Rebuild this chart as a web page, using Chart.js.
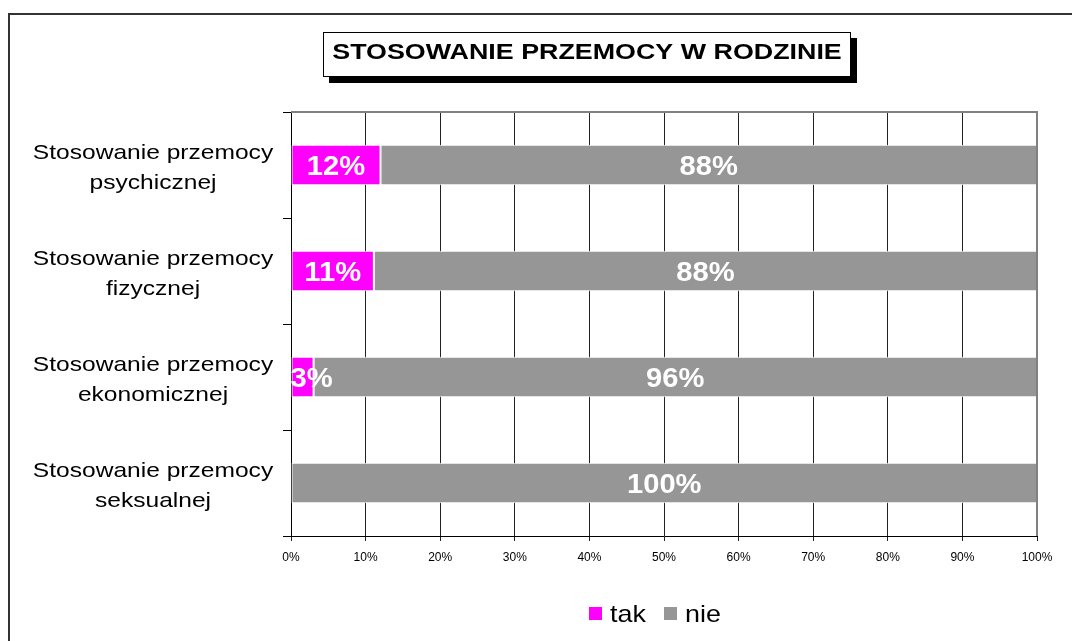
<!DOCTYPE html>
<html>
<head>
<meta charset="utf-8">
<script src="https://cdn.jsdelivr.net/npm/chart.js@4"></script>
<style>
  html, body { margin: 0; padding: 0; background: #fff; }
  #wrap { width: 1072px; height: 641px; position: relative; }
</style>
</head>
<body>
<div id="wrap"><canvas id="chart"></canvas></div>
<script>
// dane z wykresu
const categories = [
    ['Stosowanie przemocy', 'psychicznej'],
    ['Stosowanie przemocy', 'fizycznej'],
    ['Stosowanie przemocy', 'ekonomicznej'],
    ['Stosowanie przemocy', 'seksualnej']
];
const seriesNames = ['tak', 'nie'];
const takValues = [12, 11, 3, 0];
const nieValues = [88, 88, 96, 100];
const xTickLabels = ['0%', '10%', '20%', '30%', '40%', '50%', '60%', '70%', '80%', '90%', '100%'];

const FONT = "'Liberation Sans', Arial, sans-serif";
const colors = ['#ff00ff', '#969696'];

// wykres 100% skumulowany – udział w sumie wiersza
function share(values, i) {
    const total = takValues[i] + nieValues[i];
    return total === 0 ? 0 : values[i] / total * 100;
}

// tekst lekko rozciągnięty w poziomie (jak w eksporcie z Excela)
function drawText(ctx, text, x, y, font, color, sx, align) {
    ctx.save();
    ctx.font = font;
    ctx.fillStyle = color;
    ctx.textAlign = align || 'center';
    ctx.textBaseline = 'alphabetic';
    ctx.translate(x, y);
    ctx.scale(sx, 1);
    ctx.fillText(text, 0, 0);
    ctx.restore();
}

const decorPlugin = {
    id: 'decor',
    beforeDraw(chart) {
        const ctx = chart.ctx;
        ctx.save();
        ctx.fillStyle = '#fff';
        ctx.fillRect(0, 0, chart.width, chart.height);
        // ramka całego wykresu
        ctx.strokeStyle = '#333';
        ctx.lineWidth = 2;
        ctx.strokeRect(9, 14, 1100, 700);
        ctx.restore();
    },
    afterDatasetsDraw(chart) {
        const ctx = chart.ctx;
        const area = chart.chartArea;
        // szara ramka u góry i po prawej
        ctx.save();
        ctx.strokeStyle = '#808080';
        ctx.lineWidth = 2;
        ctx.beginPath();
        ctx.moveTo(area.left, area.top);
        ctx.lineTo(area.right, area.top);
        ctx.lineTo(area.right, area.bottom);
        ctx.stroke();
        ctx.restore();

        // etykiety wartości
        chart.data.datasets.forEach((ds, di) => {
            const meta = chart.getDatasetMeta(di);
            meta.data.forEach((bar, i) => {
                const raw = ds.rawValues[i];
                if (!raw) return;
                let cx = (bar.x + bar.base) / 2;
                // za wąski segment – napis zaczyna się od lewej krawędzi
                if (bar.x - bar.base < 40) cx = bar.base + 20;
                drawText(ctx, raw + '%', cx, bar.y + 10, 'bold 27px ' + FONT, '#fff', 1.08);
            });
        });
    },
    afterDraw(chart) {
        const ctx = chart.ctx;
        const yScale = chart.scales.y;

        // etykiety kategorii
        categories.forEach((lines, i) => {
            const cy = yScale.getPixelForValue(i);
            drawText(ctx, lines[0], 153, cy - 6, '21px ' + FONT, '#000', 1.17);
            drawText(ctx, lines[1], 153, cy + 23.5, '21px ' + FONT, '#000', 1.17);
        });

        // tytuł w ramce z cieniem
        ctx.save();
        ctx.fillStyle = '#000';
        ctx.fillRect(329, 38, 528, 45);
        ctx.fillStyle = '#fff';
        ctx.fillRect(323, 32, 528, 45);
        ctx.strokeStyle = '#000';
        ctx.lineWidth = 1;
        ctx.strokeRect(323.5, 32.5, 527, 44);
        ctx.restore();
        drawText(ctx, 'STOSOWANIE PRZEMOCY W RODZINIE', 587, 59, 'bold 22px ' + FONT, '#000', 1.22);

        // legenda
        const legendX = [589, 664];
        seriesNames.forEach((name, i) => {
            ctx.save();
            ctx.fillStyle = colors[i];
            ctx.fillRect(legendX[i], 607, 13, 13);
            ctx.restore();
            drawText(ctx, name, legendX[i] + 21, 622, '24px ' + FONT, '#000', 1.12, 'left');
        });
    }
};

new Chart(document.getElementById('chart'), {
    type: 'bar',
    data: {
        labels: categories,
        datasets: [
            {
                label: seriesNames[0],
                data: takValues.map((v, i) => share(takValues, i)),
                rawValues: takValues,
                backgroundColor: colors[0],
                borderColor: '#fff',
                borderWidth: 1,
                borderSkipped: false,
                categoryPercentage: 1,
                barPercentage: 0.38
            },
            {
                label: seriesNames[1],
                data: nieValues.map((v, i) => share(nieValues, i)),
                rawValues: nieValues,
                backgroundColor: colors[1],
                borderColor: '#fff',
                borderWidth: 1,
                borderSkipped: false,
                categoryPercentage: 1,
                barPercentage: 0.38
            }
        ]
    },
    options: {
        indexAxis: 'y',
        responsive: true,
        maintainAspectRatio: false,
        animation: false,
        layout: { padding: { top: 112, right: 35, left: 0, bottom: 0 } },
        plugins: {
            legend: { display: false },
            tooltip: { enabled: false }
        },
        scales: {
            x: {
                stacked: true,
                min: 0,
                max: 100,
                afterFit(scale) { scale.height = 105; },
                afterBuildTicks(scale) {
                    scale.ticks = xTickLabels.map((t, i) => ({ value: i * 10 }));
                },
                grid: { color: '#222', lineWidth: 1, tickLength: 5, drawTicks: true },
                border: { color: '#000', width: 1 },
                ticks: {
                    padding: 9,
                    maxRotation: 0,
                    autoSkip: false,
                    color: '#000',
                    font: { family: FONT, size: 12 },
                    callback: (v, i) => xTickLabels[i]
                }
            },
            y: {
                stacked: true,
                afterFit(scale) { scale.width = 291; },
                grid: { drawOnChartArea: false, drawTicks: true, tickLength: 8, color: '#000', offset: true },
                border: { color: '#000', width: 1 },
                ticks: { display: false }
            }
        }
    },
    plugins: [decorPlugin]
});
</script>
</body>
</html>
